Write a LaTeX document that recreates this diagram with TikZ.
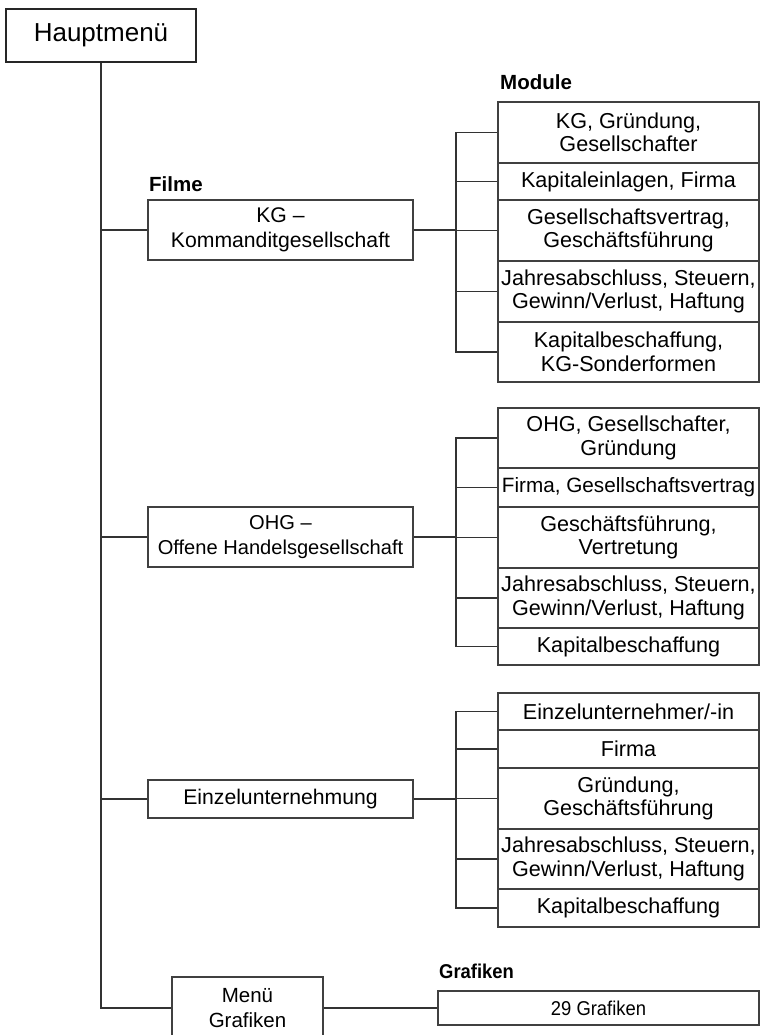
\documentclass[tikz,border=0pt]{standalone}
\usepackage{fontspec}
\setmainfont{Liberation Sans}
\newfontfamily\narrowsans[FakeStretch=0.92]{Liberation Sans}

\begin{document}
\begin{tikzpicture}[x=1pt, y=-1pt,
	menubox/.style={draw=black!75, line width=1.2pt, align=center, inner sep=0pt, font=\fontsize{21.2}{24.5}\selectfont},
	filmbox/.style={menubox, minimum width=265pt, minimum height=60pt},
	modbox/.style={menubox, minimum width=261pt, font=\fontsize{21.6}{23.5}\selectfont},
	head/.style={anchor=base west, inner sep=0pt, font=\bfseries\fontsize{20.5}{24}\selectfont},
	link/.style={draw=black!80, line width=1.3pt}]

	\clip (0,0) rectangle (761,1035);

	% main menu
	\node[menubox, draw=black!85, line width=1.8pt, minimum width=190pt, minimum height=53pt,
		font=\fontsize{26}{30}\selectfont] (haupt) at (101,35.5) {Hauptmenü};

	% films
	\node[head] (filme) at (149,191) {Filme};
	\node[filmbox] (kg) at (280.5,230) {KG --\\Kommanditgesellschaft};
	\node[filmbox, font=\fontsize{20.1}{24.5}\selectfont] (ohg) at (280.5,537) {OHG --\\Offene Handelsgesellschaft};
	\node[filmbox, minimum height=38pt] (ez) at (280.5,799) {Einzelunternehmung};
	\node[menubox, font=\fontsize{20.5}{25}\selectfont, minimum width=151pt, minimum height=62pt] (menu) at (247.5,1008) {Menü\\Grafiken};

	% modules KG
	\node[head] (module) at (500,90) {Module};
	\node[modbox, minimum height=61pt] (kg1) at (628.5,132.5) {KG, Gründung,\\Gesellschafter};
	\node[modbox, minimum height=37pt] (kg2) at (628.5,181.5) {Kapitaleinlagen, Firma};
	\node[modbox, minimum height=61pt] (kg3) at (628.5,230.5) {Gesellschaftsvertrag,\\Geschäftsführung};
	\node[modbox, minimum height=61pt] (kg4) at (628.5,291.5) {Jahresabschluss, Steuern,\\Gewinn/Verlust, Haftung};
	\node[modbox, minimum height=60pt] (kg5) at (628.5,352) {Kapitalbeschaffung,\\KG-Sonderformen};

	% modules OHG
	\node[modbox, minimum height=60pt] (oh1) at (628.5,438) {OHG, Gesellschafter,\\Gründung};
	\node[modbox, minimum height=39pt, font=\fontsize{20.7}{23.5}\selectfont] (oh2) at (628.5,487.5) {Firma, Gesellschaftsvertrag};
	\node[modbox, minimum height=61pt] (oh3) at (628.5,537.5) {Geschäftsführung,\\Vertretung};
	\node[modbox, minimum height=60pt] (oh4) at (628.5,598) {Jahresabschluss, Steuern,\\Gewinn/Verlust, Haftung};
	\node[modbox, minimum height=37pt] (oh5) at (628.5,646.5) {Kapitalbeschaffung};

	% modules Einzelunternehmung
	\node[modbox, minimum height=37pt] (ez1) at (628.5,711.5) {Einzelunternehmer/-in};
	\node[modbox, minimum height=38pt] (ez2) at (628.5,749) {Firma};
	\node[modbox, minimum height=61pt] (ez3) at (628.5,798.5) {Gründung,\\Geschäftsführung};
	\node[modbox, minimum height=60pt] (ez4) at (628.5,859) {Jahresabschluss, Steuern,\\Gewinn/Verlust, Haftung};
	\node[modbox, minimum height=38pt] (ez5) at (628.5,908) {Kapitalbeschaffung};

	% graphics
	\node[head, font=\narrowsans\bfseries\fontsize{20}{24}\selectfont] (grafiken) at (439,978) {Grafiken};
	\node[menubox, minimum width=321pt, minimum height=34pt, font=\narrowsans\fontsize{20}{24}\selectfont] (gr) at (598.5,1008) {29 Grafiken};

	% main line
	\draw[link, line width=1.6pt] (haupt.south) |- (kg.west);
	\draw[link] (haupt.south) |- (ohg.west);
	\draw[link] (haupt.south) |- (ez.west);
	\draw[link] (haupt.south) |- (menu.west);
	\draw[link] (menu.east) -- (gr.west);

	% brackets
	\coordinate (kgj) at (456,230);
	\coordinate (ohj) at (456,537);
	\coordinate (ezj) at (456,799);
	\draw[link, line width=1.6pt] (kg.east) -- (kgj);
	\draw[link, line width=1.6pt] (ohg.east) -- (ohj);
	\draw[link, line width=1.6pt] (ez.east) -- (ezj);
	\draw[link] (kgj) |- (kg1.west) (kgj) |- (kg2.west) (kgj) |- (kg3.west) (kgj) |- (kg4.west) (kgj) |- (kg5.west);
	\draw[link] (ohj) |- (oh1.west) (ohj) |- (oh2.west) (ohj) |- (oh3.west) (ohj) |- (oh4.west) (ohj) |- (oh5.west);
	\draw[link] (ezj) |- (ez1.west) (ezj) |- (ez2.west) (ezj) |- (ez3.west) (ezj) |- (ez4.west) (ezj) |- (ez5.west);

\end{tikzpicture}
\end{document}
